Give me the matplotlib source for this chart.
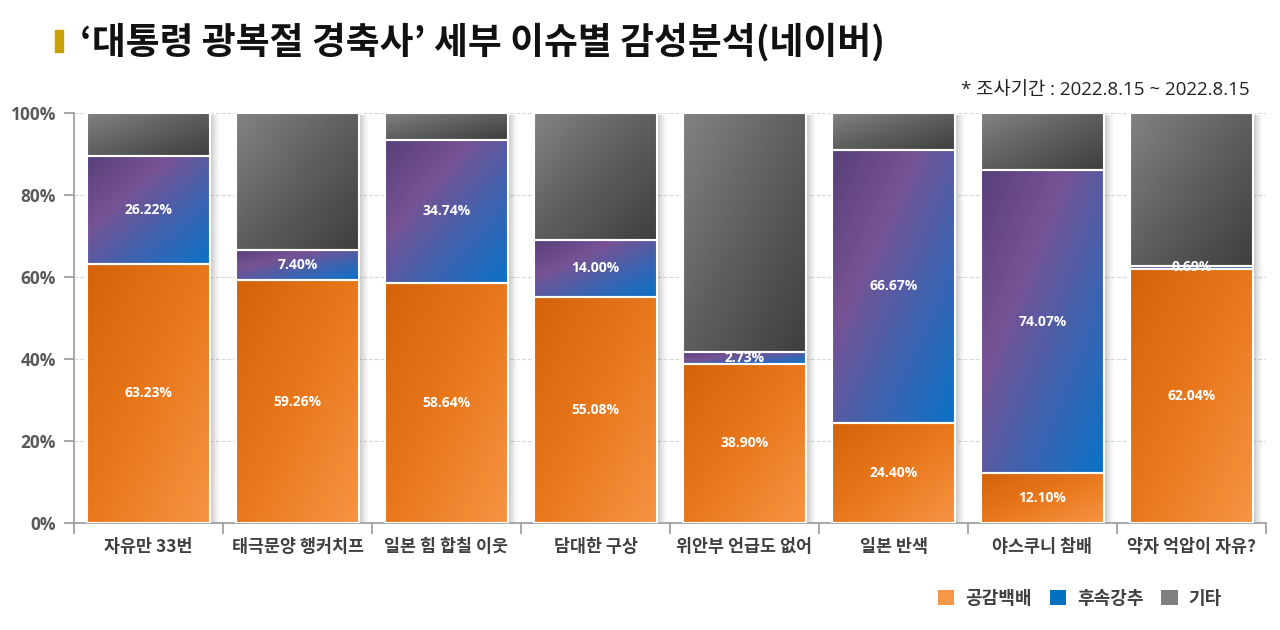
import numpy as np
import matplotlib
matplotlib.use("Agg")
import matplotlib.pyplot as plt
from matplotlib.colors import LinearSegmentedColormap
from matplotlib.patches import Rectangle, Patch

plt.rcParams['font.family'] = ['Noto Sans CJK KR', 'DejaVu Sans']
NUMFONT = ['Open Sans', 'Noto Sans CJK KR', 'DejaVu Sans']

categories = ['자유만 33번', '태극문양 행커치프', '일본 힘 합칠 이웃', '담대한 구상',
              '위안부 언급도 없어', '일본 반색', '야스쿠니 참배', '약자 억압이 자유?']
empathy = [63.23, 59.26, 58.64, 55.08, 38.90, 24.40, 12.10, 62.04]
pushback = [26.22, 7.40, 34.74, 14.00, 2.73, 66.67, 74.07, 0.69]
other = [round(100 - a - b, 2) for a, b in zip(empathy, pushback)]
series_names = ['공감백배', '후속강추', '기타']
yticks = [0, 20, 40, 60, 80, 100]

fig = plt.figure(figsize=(12.8, 6.3), dpi=100)
ax = fig.add_axes([74/1280, 1-523/630, (1266-74)/1280, (523-113)/630])

cmaps = [
    LinearSegmentedColormap.from_list('o', ['#d4620a', '#e9781c', '#f79445']),
    LinearSegmentedColormap.from_list('p', ['#57407a', '#775293', '#3d63b0', '#0a72c8']),
    LinearSegmentedColormap.from_list('g', ['#828282', '#5e5e5e', '#3e3e3e']),
]
legend_colors = ['#f79646', '#0070c0', '#7f7f7f']

x = np.arange(len(categories))
w = 0.83
bottom = np.zeros(len(categories))
grad = np.add.outer(np.linspace(0, 1, 100), np.linspace(0, 1, 100)) / 2

for vals, cmap in zip([empathy, pushback, other], cmaps):
    vals = np.array(vals)
    # soft shadow
    for al, dx in [(0.035, 0.06), (0.04, 0.045), (0.05, 0.03), (0.06, 0.015)]:
        ax.bar(x + dx, vals, w, bottom=bottom - 0.5, color='#000000', alpha=al,
               linewidth=0, zorder=1)
    bars = ax.bar(x, vals, w, bottom=bottom, color='none', edgecolor='white',
                  linewidth=1.5, zorder=3)
    for b in bars:
        bx, by, bw, bh = b.get_x(), b.get_y(), b.get_width(), b.get_height()
        im = ax.imshow(grad, cmap=cmap, extent=(bx, bx + bw, by, by + bh),
                       origin='upper', aspect='auto', zorder=2, interpolation='bilinear')
        im.set_clip_path(b)
    bottom = bottom + vals

# labels
bottom = np.zeros(len(categories))
for i, vals in enumerate([empathy, pushback, other]):
    for j, v in enumerate(vals):
        if i < 2:
            ax.text(x[j], bottom[j] + v / 2, f'{v:.2f}%', ha='center', va='center',
                    color='white', fontsize=10, fontweight='bold', family=NUMFONT, zorder=5)
    bottom = bottom + np.array(vals)

ax.set_xlim(-0.5, len(categories) - 0.5)
ax.set_ylim(0, 100)
ax.set_yticks(yticks)
ax.set_yticklabels([f'{t}%' for t in yticks], fontsize=12.5, fontweight='bold',
                   color='#595959', family=NUMFONT)
ax.set_xticks(np.arange(-0.5, len(categories), 1))
ax.set_xticklabels([])
ax.set_xticks(x, minor=True)
ax.set_xticklabels(categories, minor=True, fontsize=12.5, fontweight='bold', color='#404040')
ax.tick_params(axis='x', which='minor', length=0, pad=11)
ax.tick_params(axis='x', which='major', length=8, color='#999999', width=1.2)
ax.tick_params(axis='y', length=7, color='#999999', width=1.2, pad=6)
ax.grid(axis='y', linestyle='--', color='#d9d9d9', linewidth=0.8, zorder=0)
ax.set_axisbelow(True)
for s in ['top', 'right']:
    ax.spines[s].set_visible(False)
for s in ['left', 'bottom']:
    ax.spines[s].set_color('#999999')
    ax.spines[s].set_linewidth(1.2)

# title
fig.patches.append(Rectangle((55/1280, 1-52/630), 8/1280, 22/630, transform=fig.transFigure,
                             color='#c9a000', zorder=5))
fig.text(80/1280, 1-42/630, '‘대통령 광복절 경축사’ 세부 이슈별 감성분석(네이버)', fontsize=26.5,
         fontweight='bold', color='#111111', va='center', ha='left')
fig.text(1250/1280, 1-90/630, '* 조사기간 : 2022.8.15 ~ 2022.8.15', fontsize=13.5,
         color='#222222', va='center', ha='right', family=NUMFONT)

handles = [Patch(facecolor=c, edgecolor='none') for c in legend_colors]
fig.legend(handles, series_names, loc='center right', bbox_to_anchor=(1238/1280, 1-598/630),
           ncol=3, frameon=False, handlelength=0.9, handleheight=0.9, handletextpad=0.6,
           columnspacing=1.0, prop={'size': 13, 'weight': 'bold'}, labelcolor='#404040')

fig.savefig('out.png', dpi=100)
